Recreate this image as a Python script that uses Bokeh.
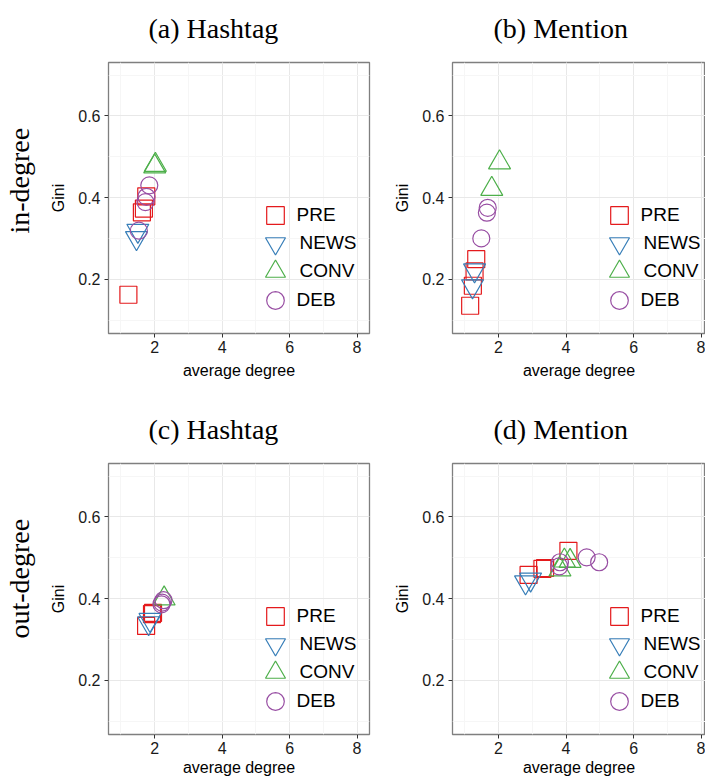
from bokeh.plotting import figure
from bokeh.layouts import column, row
from bokeh.models import Title, Legend, LegendItem, SingleIntervalTicker, Range1d
from bokeh.embed import file_html
from bokeh.resources import INLINE

categories = ["PRE", "NEWS", "CONV", "DEB"]
colors = ["#E41A1C", "#377EB8", "#4DAF4A", "#984EA3"]
markers = ["square", "inverted_triangle", "triangle", "circle"]
marker_sizes = [17, 22, 22, 17]

# (a) Hashtag, in-degree
a_pre_x = [1.22, 1.62, 1.68, 1.75]
a_pre_y = [0.162, 0.364, 0.373, 0.403]
a_news_x = [1.46, 1.50]
a_news_y = [0.301, 0.319]
a_conv_x = [2.00, 2.02]
a_conv_y = [0.476, 0.480]
a_deb_x = [1.53, 1.725, 1.755, 1.84]
a_deb_y = [0.319, 0.389, 0.402, 0.430]

# (b) Mention, in-degree
b_pre_x = [1.16, 1.24, 1.29, 1.34]
b_pre_y = [0.135, 0.184, 0.219, 0.249]
b_news_x = [1.23, 1.29]
b_news_y = [0.183, 0.222]
b_conv_x = [1.80, 2.03]
b_conv_y = [0.421, 0.486]
b_deb_x = [1.49, 1.655, 1.68]
b_deb_y = [0.300, 0.363, 0.375]

# (c) Hashtag, out-degree
c_pre_x = [1.745, 1.92, 1.95]
c_pre_y = [0.333, 0.362, 0.365]
c_news_x = [1.82, 1.86]
c_news_y = [0.340, 0.348]
c_conv_x = [2.28]
c_conv_y = [0.400]
c_deb_x = [2.20, 2.22, 2.26]
c_deb_y = [0.386, 0.390, 0.396]

# (d) Mention, out-degree
d_pre_x = [2.89, 3.30, 3.38, 4.07]
d_pre_y = [0.458, 0.473, 0.475, 0.517]
d_news_x = [2.80, 2.95]
d_news_y = [0.440, 0.447]
d_conv_x = [3.82, 3.95, 4.12]
d_conv_y = [0.471, 0.493, 0.492]
d_deb_x = [3.80, 3.82, 4.61, 4.98]
d_deb_y = [0.479, 0.489, 0.501, 0.489]

x_ticks_interval = 2
y_ticks_interval = 0.2
y_start, y_end = 0.067, 0.731

SANS = "Liberation Sans"
SERIF = "Liberation Serif"

# legend key box sizes (marker size = 0.4 * box) and key centres (px from frame bottom-left)
legend_box = [44, 50, 50, 44]
legend_cx = 166.5
legend_cy = [118.3, 90.0, 61.7, 33.3]


def make_panel(caption, row_label, row_offset, series, x_start, x_end, width, height,
               mbl, mbr, mbt, mbb, cap_offset, xlab_standoff):
    p = figure(width=width, height=height,
               x_range=Range1d(x_start, x_end), y_range=Range1d(y_start, y_end),
               output_backend="svg", toolbar_location=None,
               min_border_left=mbl, min_border_right=mbr,
               min_border_top=mbt, min_border_bottom=mbb)
    t = Title(text=caption, align="left", offset=cap_offset,
              text_font=SERIF, text_font_size="28px",
              text_font_style="normal", text_color="#000000", standoff=4,
              padding=dict(left=0, right=0, top=0, bottom=17))
    p.add_layout(t, "above")
    if row_label:
        rl = Title(text=row_label, align="left", offset=row_offset,
                   text_font=SERIF, text_font_size="28px",
                   text_font_style="normal", text_color="#000000", standoff=0,
                   padding=dict(left=0, right=0, top=0, bottom=13))
        p.add_layout(rl, "left")

    p.background_fill_color = "white"
    p.border_fill_color = "white"
    p.outline_line_color = "#7f7f7f"
    p.outline_line_width = 1.3

    p.xaxis.ticker = SingleIntervalTicker(interval=x_ticks_interval, num_minor_ticks=2)
    p.yaxis.ticker = SingleIntervalTicker(interval=y_ticks_interval, num_minor_ticks=2)
    for ax in (p.xaxis, p.yaxis):
        ax.axis_line_color = None
        ax.major_tick_line_color = "#333333"
        ax.major_tick_out = 4
        ax.major_tick_in = 0
        ax.minor_tick_out = 0
        ax.minor_tick_in = 0
        ax.major_label_text_font = SANS
        ax.major_label_text_font_size = "16px"
        ax.major_label_text_color = "#1a1a1a"
        ax.major_label_standoff = 3
        ax.axis_label_text_font = SANS
        ax.axis_label_text_font_size = "16px"
        ax.axis_label_text_font_style = "normal"
        ax.axis_label_text_color = "#000000"
    p.yaxis.major_label_standoff = 4
    p.xaxis.axis_label_standoff = xlab_standoff
    p.yaxis.axis_label_standoff = 8
    p.xaxis.axis_label = "average degree"
    p.yaxis.axis_label = "Gini"

    for g in (p.xgrid, p.ygrid):
        g.grid_line_color = "#e8e8e8"
        g.grid_line_width = 1
        g.minor_grid_line_color = "#f6f6f6"
        g.minor_grid_line_width = 1

    for (xs, ys), cat, col, mk, sz, box, cy in zip(series, categories, colors, markers,
                                                   marker_sizes, legend_box, legend_cy):
        r = p.scatter(xs, ys, marker=mk, size=sz, fill_color=None,
                      line_color=col, line_width=1.2)
        leg = Legend(items=[LegendItem(label=cat, renderers=[r])],
                     location=(legend_cx - box / 2, cy - box / 2),
                     glyph_width=box, glyph_height=box, spacing=0,
                     label_standoff=0, padding=0, margin=0,
                     label_text_font=SANS, label_text_font_size="19px",
                     label_text_color="#000000",
                     background_fill_alpha=0, border_line_color=None)
        p.add_layout(leg, "center")
    return p


pa = make_panel("(a) Hashtag", "in-degree", 100,
                [(a_pre_x, a_pre_y), (a_news_x, a_news_y), (a_conv_x, a_conv_y), (a_deb_x, a_deb_y)],
                0.63, 8.37, 382, 387, 108, 13, 62, 54, 40, 6)
pb = make_panel("(b) Mention", None, 0,
                [(b_pre_x, b_pre_y), (b_news_x, b_news_y), (b_conv_x, b_conv_y), (b_deb_x, b_deb_y)],
                0.637, 8.13, 323, 387, 70, 0, 62, 54, 41, 6)
pc = make_panel("(c) Hashtag", "out-degree", 96,
                [(c_pre_x, c_pre_y), (c_news_x, c_news_y), (c_conv_x, c_conv_y), (c_deb_x, c_deb_y)],
                0.63, 8.37, 382, 393, 108, 13, 76, 46, 40, 2)
pd = make_panel("(d) Mention", None, 0,
                [(d_pre_x, d_pre_y), (d_news_x, d_news_y), (d_conv_x, d_conv_y), (d_deb_x, d_deb_y)],
                0.637, 8.13, 323, 393, 70, 0, 76, 46, 41, 2)

layout = column(row(pa, pb), row(pc, pd))
open("out.html", "w").write(file_html(layout, INLINE))
